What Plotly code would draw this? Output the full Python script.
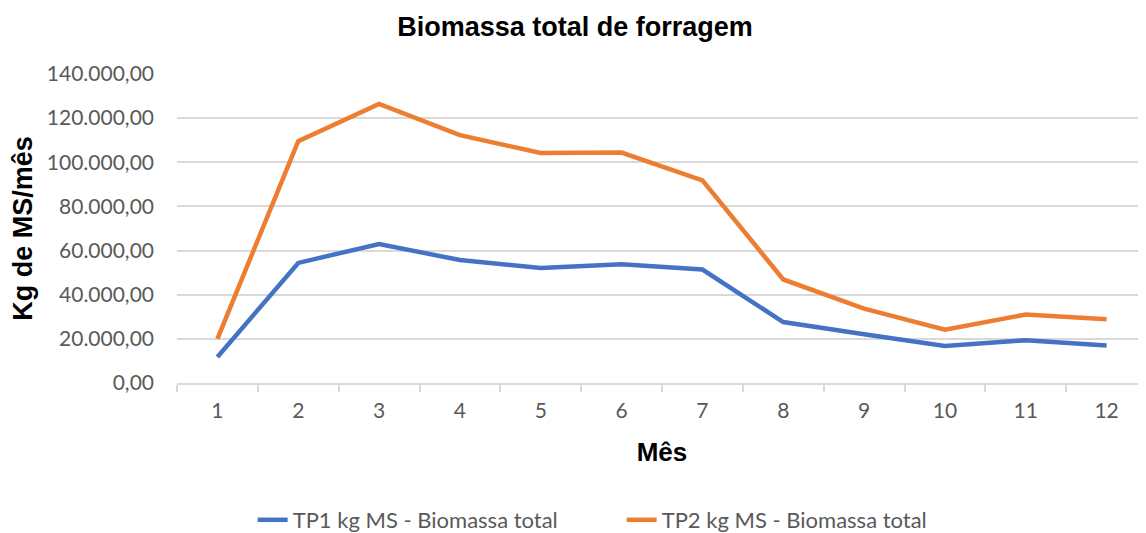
import plotly.graph_objects as go

# data
meses = ["1", "2", "3", "4", "5", "6", "7", "8", "9", "10", "11", "12"]
tp1_biomassa = [11800, 54400, 63000, 55700, 52100, 53800, 51400, 27600, 22100, 16800, 19400, 17000]
tp2_biomassa = [20000, 109600, 126400, 112300, 104200, 104400, 91800, 46900, 33700, 24200, 31000, 28900]

fig = go.Figure()

fig.add_trace(go.Scatter(
    x=meses,
    y=tp1_biomassa,
    mode='lines',
    name='TP1 kg MS - Biomassa total',
    line=dict(color='#4472C4', width=4.5)
))

fig.add_trace(go.Scatter(
    x=meses,
    y=tp2_biomassa,
    mode='lines',
    name='TP2 kg MS - Biomassa total',
    line=dict(color='#ED7D31', width=4.5)
))

# the page body adds an 8px offset, so margins are shifted to compensate
# (the plot area runs off the right edge in the reference)
fig.update_layout(
    width=1146,
    height=533,
    paper_bgcolor='white',
    plot_bgcolor='white',
    separators=',.',
    margin=dict(l=169, r=7, t=66, b=158, autoexpand=False),
    title=dict(
        text="<b>Biomassa total de forragem</b>",
        x=(575 - 8) / 1146, xanchor='center', y=1 - 19 / 533, yanchor='middle',
        font=dict(family="Liberation Sans, Arial", size=27, color='black')
    ),
    font=dict(family="Lato, Open Sans", size=21, color='#595959'),
    xaxis=dict(
        type='category',
        range=[-0.5, 11.5],
        showgrid=False,
        showline=True,
        linecolor='#d9d9d9',
        linewidth=1.5,
        ticks='outside',
        tickson='boundaries',
        tickcolor='#d9d9d9',
        tickwidth=1.5,
        ticklen=7,
        ticklabelstandoff=8,
        tickfont=dict(size=21, color='#595959'),
        title=dict(text="<b>Mês</b>", standoff=22,
                   font=dict(family="Liberation Sans, Arial", size=26, color='black')),
    ),
    yaxis=dict(
        range=[0, 140000],
        dtick=20000,
        tickformat=',.2f',
        showgrid=True,
        gridcolor='#d9d9d9',
        gridwidth=1.5,
        zeroline=False,
        showline=False,
        ticks='',
        ticklabelstandoff=22,
        tickfont=dict(size=21, color='#595959'),
        title=dict(text="<b>Kg de MS/mês</b>", standoff=16,
                   font=dict(family="Liberation Sans, Arial", size=27, color='black')),
    ),
    legend=dict(
        orientation='h',
        x=0.078, xanchor='left',
        y=-137 / 309, yanchor='middle',
        entrywidth=324, entrywidthmode='pixels',
        font=dict(size=22, color='#595959'),
    ),
)

fig.write_html("out.html")
